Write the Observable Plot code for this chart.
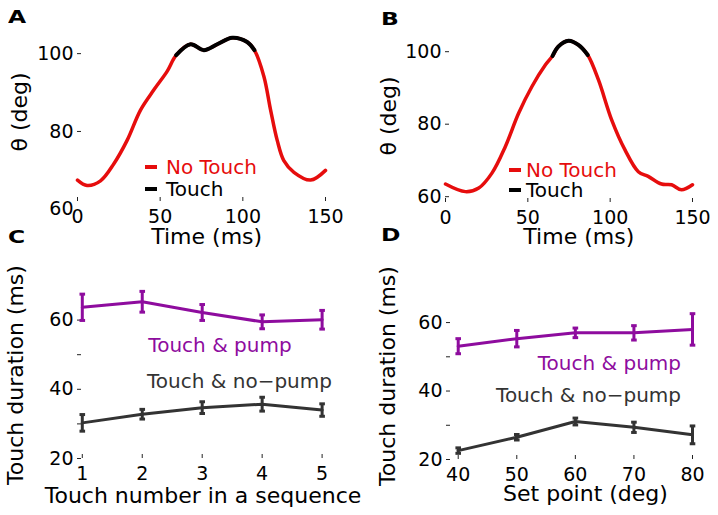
<!DOCTYPE html>
<html><head><meta charset="utf-8">
<script src="https://cdn.jsdelivr.net/npm/d3@7"></script>
<script src="https://cdn.jsdelivr.net/npm/@observablehq/plot@0.6"></script>
<style>
body{margin:0;background:#fff;}
#fig{position:relative;width:718px;height:515px;font-family:"DejaVu Sans",sans-serif;color:#000;overflow:hidden;background:#fff}
.panel{position:absolute}
.lbl{position:absolute;font-weight:bold;font-size:18px;line-height:18px;transform:scaleX(1.3);transform-origin:left top}
.txt{position:absolute;white-space:nowrap;font-size:20px;line-height:14px}
.ax{position:absolute;white-space:nowrap;font-size:22px;line-height:16px}
.sw{position:absolute;height:4px;width:12px}
</style></head>
<body><div id="fig"></div>
<script>
// ---------- data ----------
// Panel A: whisker angle trace
const timeA  = [0, 5.8, 13.9, 22, 30, 38.1, 46.2, 54.3, 59.7, 68.4, 76.4, 84.5, 93.6, 102.6, 107, 112.7, 116.8, 120.8, 124.8, 130.9, 141, 150];
const thetaA = [67.5, 66.1, 67.3, 71.7, 77.7, 85.5, 90.7, 95.5, 99.6, 102.4, 100.9, 102.4, 104.1, 103, 100.9, 94.2, 85.5, 77.7, 72.5, 69.5, 67.5, 70];
const touchA = [59.7, 107];
// Panel B
const timeB  = [0, 12.1, 20.2, 28.2, 36.3, 44.4, 52.5, 60.6, 65, 68.5, 74.7, 80.9, 86.4, 92.9, 100.9, 109, 117.1, 123.1, 131.2, 137.3, 143.3, 150];
const thetaB = [63.5, 61.4, 62.4, 66.5, 73.8, 83, 90.4, 96.3, 98.8, 101.4, 103, 101.8, 99.1, 92.2, 81.2, 72.9, 66.9, 65.6, 63.5, 63.3, 61.9, 63.3];
const touchB = [65, 86.4];
// Panel C
const touchNum   = [1, 2, 3, 4, 5];
const pumpC      = [63.7, 65.3, 62.2, 59.5, 60.1];
const pumpCerr   = [3.8, 3.0, 2.3, 2.0, 2.7];
const noPumpC    = [30.3, 32.8, 34.7, 35.7, 34.0];
const noPumpCerr = [2.4, 1.4, 1.7, 2.0, 1.8];
// Panel D
const setPoint   = [40, 50, 60, 70, 80];
const pumpD      = [53.1, 55.3, 57.0, 57.0, 58.0];
const pumpDerr   = [2.2, 2.4, 1.4, 2.1, 4.6];
const noPumpD    = [22.6, 26.5, 31.1, 29.4, 27.2];
const noPumpDerr = [0.8, 0.8, 1.0, 1.5, 2.6];

// ---------- helpers ----------
const RED = "#e60d0d", PURPLE = "#8e0c9e", GRAY = "#333333";
const trace = (ts, vs) => ts.map((t, i) => ({t, v: vs[i]}));
const rows = (xs, ys, es) => xs.map((x, i) => ({x, y: ys[i], e: es[i]}));
const cap = {draw(ctx, size) { const w = Math.sqrt(size / Math.PI) * 1.4; ctx.moveTo(-w, 0); ctx.lineTo(w, 0); }};
const fmt = d => String(d);

function makePlot(o) {
  const iw = o.width - o.ml - o.mr, ih = o.height - o.mt - o.mb;
  return Plot.plot({
    width: o.width, height: o.height,
    marginLeft: o.ml, marginRight: o.mr, marginTop: o.mt, marginBottom: o.mb,
    style: {fontFamily: "DejaVu Sans, sans-serif", fontSize: "19px", color: "#000", background: "transparent", overflow: "visible"},
    x: {domain: o.xdom}, y: {domain: o.ydom},
    marks: [
      Plot.axisX({ticks: o.xTicks, tickSize: 0, tickPadding: 8, label: null, line: true, stroke: "#222", fontSize: 19, tickFormat: fmt}),
      Plot.axisY({ticks: o.yLabelTicks, tickSize: 0, tickPadding: 4, label: null, line: true, stroke: "#222", fontSize: 19, tickFormat: fmt}),
      // inward tick marks
      Plot.tickX(o.xTicks, {x: d => d, insetTop: ih - 4, stroke: "#222"}),
      Plot.tickY(o.yTicks, {y: d => d, insetRight: iw - 4, stroke: "#222"}),
      ...o.marks
    ]
  });
}

function traceMarks(ts, vs, touch) {
  const d = trace(ts, vs);
  const inTouch = d.filter(p => p.t >= touch[0] && p.t <= touch[1]);
  return [
    Plot.line(d, {x: "t", y: "v", stroke: RED, strokeWidth: 3.5, curve: "catmull-rom"}),
    Plot.line(inTouch, {x: "t", y: "v", stroke: "#000", strokeWidth: 4, curve: "catmull-rom"})
  ];
}

function seriesMarks(data, color) {
  return [
    Plot.line(data, {x: "x", y: "y", stroke: color, strokeWidth: 3}),
    Plot.ruleX(data, {x: "x", y1: d => d.y - d.e, y2: d => d.y + d.e, stroke: color, strokeWidth: 3}),
    Plot.dot(data, {x: "x", y: d => d.y - d.e, symbol: cap, r: 2, stroke: color, strokeWidth: 3, fill: "none"}),
    Plot.dot(data, {x: "x", y: d => d.y + d.e, symbol: cap, r: 2, stroke: color, strokeWidth: 3, fill: "none"})
  ];
}

const fig = document.getElementById("fig");
function place(el, left, top) { const w = document.createElement("div"); w.className = "panel"; w.style.left = left + "px"; w.style.top = top + "px"; w.appendChild(el); fig.appendChild(w); }
function text(str, cls, css) { const d = document.createElement("div"); d.className = cls; d.textContent = str; Object.assign(d.style, css); fig.appendChild(d); return d; }

// ---------- panels ----------
place(makePlot({width: 359, height: 257, ml: 77, mr: 34, mt: 22, mb: 56,
  xdom: [0, 150], ydom: [62, 108], xTicks: [0, 50, 100, 150], yTicks: [80, 100], yLabelTicks: [60, 80, 100],
  marks: traceMarks(timeA, thetaA, touchA)}), 0, 0);

place(makePlot({width: 359, height: 257, ml: 86, mr: 26, mt: 24, mb: 55,
  xdom: [0, 150], ydom: [58.4, 107.5], xTicks: [0, 50, 100, 150], yTicks: [60, 80, 100], yLabelTicks: [60, 80, 100],
  marks: traceMarks(timeB, thetaB, touchB)}), 359, 0);

place(makePlot({width: 359, height: 258, ml: 77, mr: 26, mt: 28, mb: 57,
  xdom: [0.92, 5.19], ydom: [20, 70], xTicks: touchNum, yTicks: [20, 30, 40, 50, 60], yLabelTicks: [20, 40, 60],
  marks: [...seriesMarks(rows(touchNum, pumpC, pumpCerr), PURPLE), ...seriesMarks(rows(touchNum, noPumpC, noPumpCerr), GRAY)]}), 0, 257);

place(makePlot({width: 359, height: 258, ml: 87, mr: 26, mt: 24, mb: 56,
  xdom: [38, 80], ydom: [20, 72], xTicks: setPoint, yTicks: [20, 30, 40, 50, 60], yLabelTicks: [20, 40, 60],
  marks: [...seriesMarks(rows(setPoint, pumpD, pumpDerr), PURPLE), ...seriesMarks(rows(setPoint, noPumpD, noPumpDerr), GRAY)]}), 359, 257);

// ---------- panel letters ----------
text("A", "lbl", {left: "8px", top: "8px"});
text("B", "lbl", {left: "381px", top: "10px"});
text("C", "lbl", {left: "8px", top: "228px"});
text("D", "lbl", {left: "381px", top: "226px"});

// ---------- axis labels ----------
const hx = (s, cx, capTop) => text(s, "ax", {left: cx + "px", top: (capTop + 0.4) + "px", transform: "translateX(-50%)"});
const vy = (s, cx, cy) => text(s, "ax", {left: cx + "px", top: cy + "px", transform: "translate(-50%,-50%) rotate(-90deg)"});
hx("Time (ms)", 206.7, 228.5);
hx("Time (ms)", 578.8, 228.5);
hx("Touch number in a sequence", 203, 488);
hx("Set point (deg)", 585.5, 486);
vy("θ (deg)", 20, 112);
vy("θ (deg)", 389, 116);
vy("Touch duration (ms)", 16, 375);
vy("Touch duration (ms)", 388, 376);

// ---------- legends (A, B) ----------
function legend(x0, yNo, yT, gap) {
  const s1 = document.createElement("div"); s1.className = "sw"; Object.assign(s1.style, {left: x0 + "px", top: (yNo - 2) + "px", background: RED}); fig.appendChild(s1);
  const s2 = document.createElement("div"); s2.className = "sw"; Object.assign(s2.style, {left: x0 + "px", top: (yT - 2) + "px", background: "#000"}); fig.appendChild(s2);
  text("No Touch", "txt", {left: (x0 + gap) + "px", top: (yNo - 7) + "px", color: RED});
  text("Touch", "txt", {left: (x0 + gap) + "px", top: (yT - 7) + "px", color: "#000"});
}
legend(145, 167, 189, 21);
legend(509, 170, 190, 17);

// ---------- annotations (C, D) ----------
text("Touch & pump", "txt", {left: "220px", top: "338px", color: PURPLE, transform: "translateX(-50%)"});
text("Touch & no\u2212pump", "txt", {left: "147px", top: "374px", color: GRAY});
text("Touch & pump", "txt", {left: "681px", top: "356px", color: PURPLE, transform: "translateX(-100%)"});
text("Touch & no\u2212pump", "txt", {left: "681px", top: "388px", color: GRAY, transform: "translateX(-100%)"});
</script>
</body></html>
